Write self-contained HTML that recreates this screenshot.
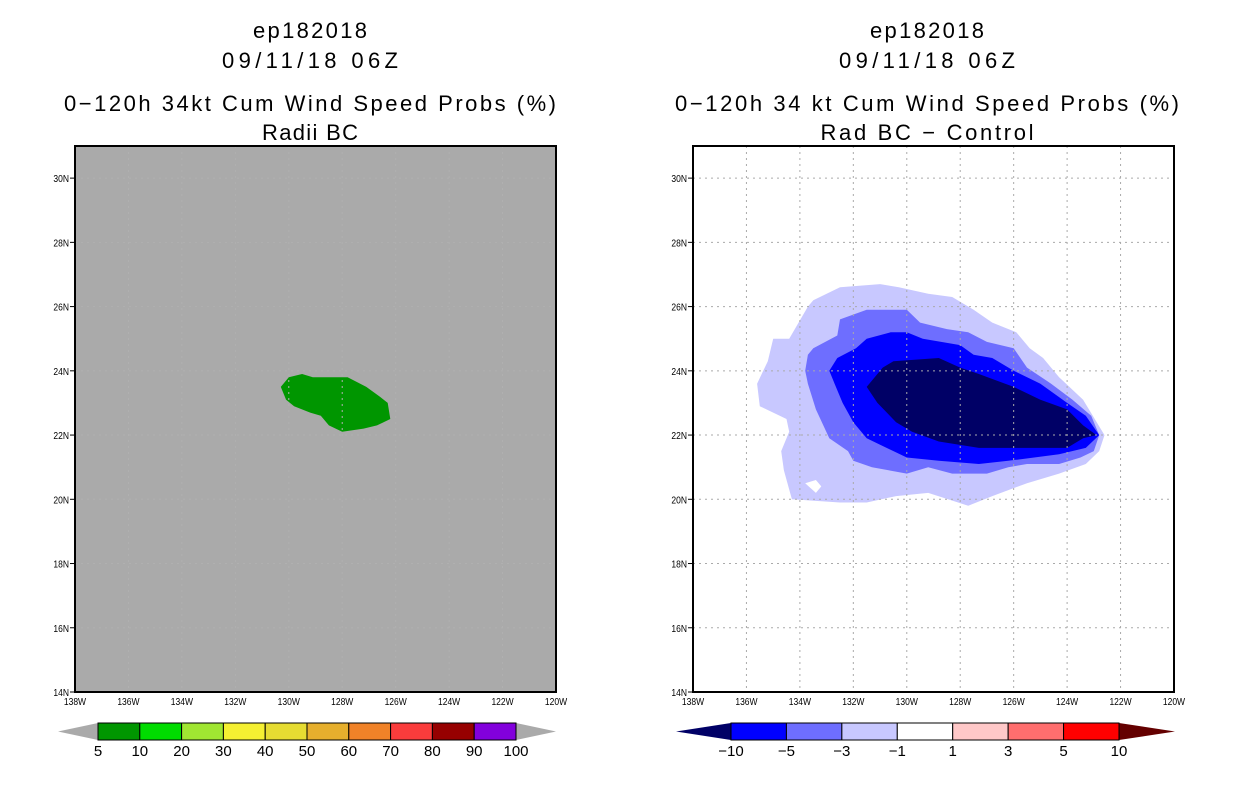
<!DOCTYPE html>
<html><head><meta charset="utf-8"><style>
body{margin:0;background:#fff;width:1236px;height:800px;overflow:hidden}
svg{display:block}
text{font-family:"Liberation Sans",sans-serif}
</style></head><body>
<svg id="chart" width="1236" height="800" xmlns="http://www.w3.org/2000/svg"></svg>
<script>
const lonTicks=[-138,-136,-134,-132,-130,-128,-126,-124,-122,-120];
const latTicks=[14,16,18,20,22,24,26,28,30];
const greenBlob=[[-130.3,23.5],[-130.1,23.7],[-130.0,23.8],[-129.5,23.9],[-129.1,23.8],[-128.5,23.8],[-127.8,23.8],[-127.1,23.5],[-126.6,23.2],[-126.3,23.0],[-126.2,22.5],[-126.7,22.3],[-127.2,22.2],[-128.0,22.1],[-128.5,22.3],[-128.8,22.6],[-129.2,22.7],[-129.8,22.9],[-130.1,23.1]];
const diffLevel1=[[-133.7,26.0],[-133.5,26.2],[-132.5,26.6],[-131.0,26.7],[-130.3,26.6],[-129.2,26.4],[-128.3,26.3],[-127.5,25.9],[-126.8,25.5],[-125.9,25.2],[-125.4,24.7],[-124.9,24.4],[-124.3,23.8],[-123.4,23.1],[-122.6,22.0],[-122.8,21.5],[-123.3,21.1],[-124.3,20.8],[-125.5,20.5],[-126.8,20.1],[-127.7,19.8],[-129.2,20.2],[-130.4,20.1],[-131.5,19.9],[-132.5,19.9],[-134.3,20.0],[-134.6,20.9],[-134.7,21.5],[-134.4,22.1],[-134.5,22.5],[-135.0,22.7],[-135.5,22.9],[-135.6,23.6],[-135.2,24.3],[-135.0,25.0],[-134.4,25.0]];
const diffHole=[[-133.8,20.5],[-133.4,20.6],[-133.2,20.4],[-133.4,20.2]];
const diffLevel3=[[-133.7,24.5],[-133.5,24.7],[-132.6,25.1],[-132.5,25.6],[-131.5,25.9],[-130.0,25.9],[-129.5,25.5],[-128.5,25.3],[-127.7,25.2],[-127.0,24.9],[-126.0,24.7],[-125.5,24.1],[-124.6,23.6],[-123.8,23.1],[-123.1,22.6],[-122.8,22.0],[-123.0,21.5],[-123.5,21.3],[-124.3,21.1],[-125.5,21.1],[-126.2,21.0],[-127.0,20.8],[-128.3,20.8],[-129.2,21.0],[-130.0,20.8],[-131.3,21.0],[-132.0,21.2],[-132.2,21.5],[-132.9,21.9],[-133.4,22.8],[-133.7,23.6],[-133.8,24.0]];
const diffLevel5=[[-132.9,24.0],[-132.6,24.4],[-131.9,24.7],[-131.5,25.0],[-130.6,25.2],[-130.0,25.2],[-129.4,25.0],[-128.0,24.8],[-127.5,24.5],[-126.8,24.4],[-126.0,24.0],[-125.0,23.6],[-124.0,23.0],[-123.3,22.6],[-122.8,22.0],[-123.3,21.6],[-124.3,21.4],[-126.2,21.2],[-127.3,21.1],[-128.8,21.2],[-130.0,21.3],[-131.0,21.7],[-131.5,21.9],[-132.0,22.4],[-132.4,23.0],[-132.7,23.6]];
const diffLevel10=[[-131.5,23.5],[-130.9,24.1],[-130.5,24.3],[-128.8,24.4],[-128.0,24.1],[-127.3,23.9],[-126.0,23.5],[-125.0,23.1],[-124.0,22.8],[-123.4,22.3],[-122.9,22.0],[-123.4,21.9],[-124.0,21.6],[-125.5,21.6],[-127.3,21.6],[-128.8,21.8],[-129.8,22.1],[-130.4,22.4],[-131.1,23.0]];
const probLabels=["5","10","20","30","40","50","60","70","80","90","100"];
const probColors=["#009600","#00dc00","#a0e632","#f5f032","#e6dc32","#e6af2d","#f08228","#fa3c3c","#960000","#8200dc"];
const diffLabels=["-10","-5","-3","-1","1","3","5","10"];
const diffColors=["#0000ff","#6e6eff","#c8c8ff","#ffffff","#ffc8c8","#ff6e6e","#ff0000"];

const NS="http://www.w3.org/2000/svg";
const svg=document.getElementById('chart');
function mk(tag,attrs,parent){const e=document.createElementNS(NS,tag);for(const k in attrs)e.setAttribute(k,attrs[k]);(parent||svg).appendChild(e);return e;}
const W=481,H=546,Y0=146,LONMIN=-138,LONMAX=-120,LATMIN=14,LATMAX=31;
function panel(x0,cx,lines,bg,name){
  const g=mk('g',{});
  
  
  const xs=lon=>x0+(lon-LONMIN)/(LONMAX-LONMIN)*W;
  const ys=lat=>Y0+H-(lat-LATMIN)/(LATMAX-LATMIN)*H;
  const yy=[30,60,103,132];
  lines.forEach(([t,len],i)=>{
    const e=mk('text',{x:cx,y:yy[i]+8,'text-anchor':'middle','font-size':22,textLength:len,lengthAdjust:'spacing'},g);
    e.textContent=t;
    
    
  });
  const bgr=mk('rect',{x:x0,y:Y0,width:W,height:H,fill:bg},g);
  
  
  return {g,xs,ys,x0};
}
function poly(p,pts,fill,name){
  const e=mk('polygon',{points:pts.map(q=>p.xs(q[0]).toFixed(1)+','+p.ys(q[1]).toFixed(1)).join(' '),fill:fill},p.g);
  
  
}
function axes(p,gridCol){
  lonTicks.slice(1,-1).forEach(l=>{mk('line',{x1:p.xs(l),x2:p.xs(l),y1:Y0,y2:Y0+H,stroke:gridCol,'stroke-dasharray':'2,4'},p.g);});
  latTicks.slice(1).forEach(l=>{mk('line',{x1:p.x0,x2:p.x0+W,y1:p.ys(l),y2:p.ys(l),stroke:gridCol,'stroke-dasharray':'2,4'},p.g);});
  const b=mk('rect',{x:p.x0,y:Y0,width:W,height:H,fill:'none',stroke:'#000','stroke-width':2},p.g);
  
  
  lonTicks.forEach(l=>{
    const t=mk('text',{x:p.xs(l),y:Y0+H+13,'text-anchor':'middle','font-size':10},p.g);
    t.setAttribute('transform',`translate(${p.xs(l)},0) scale(0.85,1) translate(${-p.xs(l)},0)`);
    t.textContent=Math.abs(l)+'W';
    
    
  });
  latTicks.forEach(l=>{
    mk('line',{x1:p.x0-5,x2:p.x0,y1:p.ys(l),y2:p.ys(l),stroke:'#000'},p.g);
    const t=mk('text',{x:p.x0-6,y:p.ys(l)+4,'text-anchor':'end','font-size':10},p.g);
    t.setAttribute('transform',`translate(${p.x0-6},0) scale(0.85,1) translate(${-(p.x0-6)},0)`);
    t.textContent=l+'N';
    
    
  });
}
function colorbar(x1,x2,tl,tr,colors,labels,lc,rc,name){
  const g=mk('g',{});
  
  
  const y1=723,y2=740,ym=731.5,n=colors.length,w=(x2-x1)/n;
  mk('polygon',{points:`${tl},${ym} ${x1},${y1} ${x1},${y2}`,fill:lc},g);
  mk('polygon',{points:`${tr},${ym} ${x2},${y1} ${x2},${y2}`,fill:rc},g);
  colors.forEach((c,i)=>{mk('rect',{x:x1+i*w,y:y1,width:w,height:y2-y1,fill:c,stroke:'#000','stroke-width':1},g);});
  labels.forEach((l,i)=>{
    const t=mk('text',{x:x1+i*w,y:756,'text-anchor':'middle','font-size':15},g);
    t.textContent=l.replace('-','\u2212');
    
    
  });
}
const L=panel(75,310,[['ep182018',114],['09/11/18 06Z',176],['0\u2212120h 34kt Cum Wind Speed Probs (%)',492],['Radii BC',96]],'#aaaaaa','left-panel');
poly(L,greenBlob,'#009600','prob-5-10-region');
axes(L,'#b0b0b0');
const R=panel(693,927,[['ep182018',114],['09/11/18 06Z',176],['0\u2212120h 34 kt Cum Wind Speed Probs (%)',504],['Rad BC \u2212 Control',213]],'#ffffff','right-panel');
poly(R,diffLevel1,'#c8c8ff','diff-1-3-region');
poly(R,diffHole,'#ffffff','diff-hole');
poly(R,diffLevel3,'#6e6eff','diff-3-5-region');
poly(R,diffLevel5,'#0000ff','diff-5-10-region');
poly(R,diffLevel10,'#000066','diff-gt10-region');
axes(R,'#aaaaaa');
colorbar(98,516,58,556,probColors,probLabels,'#aaaaaa','#aaaaaa','prob-colorbar');
colorbar(731,1119,676,1175,diffColors,diffLabels,'#000066','#640000','diff-colorbar');
</script>
</body></html>
